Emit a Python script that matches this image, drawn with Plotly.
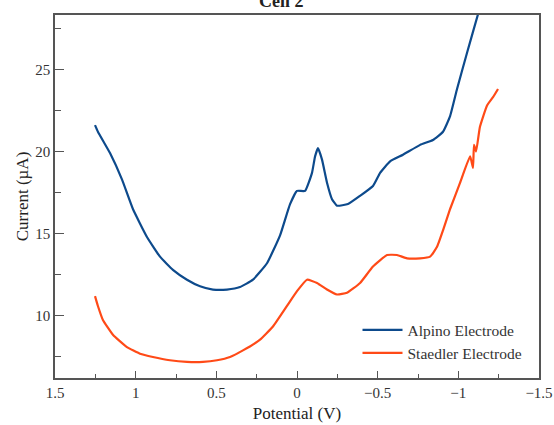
import plotly.graph_objects as go

# Alpino Electrode (blue)
alpino_potential = [1.252, 1.234, 1.159, 1.085, 1.017, 0.930, 0.849, 0.769, 0.682, 0.601,
                    0.521, 0.434, 0.353, 0.273, 0.186, 0.105, 0.043, 0.000, -0.050, -0.093,
                    -0.112, -0.130, -0.155, -0.186, -0.217, -0.248, -0.316, -0.391, -0.471,
                    -0.515, -0.577, -0.657, -0.763, -0.843, -0.905, -0.949, -0.992, -1.054,
                    -1.122, -1.147]
alpino_current = [21.6, 21.2, 19.9, 18.3, 16.5, 14.8, 13.6, 12.8, 12.2, 11.8,
                  11.6, 11.6, 11.75, 12.2, 13.2, 14.9, 16.8, 17.6, 17.6, 18.7,
                  19.7, 20.2, 19.5, 18.1, 17.1, 16.7, 16.8, 17.3, 17.9,
                  18.7, 19.4, 19.8, 20.4, 20.7, 21.2, 22.15, 23.8, 26.0,
                  28.35, 29.2]

# Staedler Electrode (orange)
staedler_potential = [1.252, 1.234, 1.203, 1.141, 1.054, 0.973, 0.893, 0.788, 0.682, 0.583,
                      0.496, 0.415, 0.335, 0.229, 0.149, 0.062, 0.000, -0.062, -0.124,
                      -0.186, -0.248, -0.310, -0.391, -0.471, -0.558, -0.620, -0.682,
                      -0.763, -0.825, -0.868, -0.905, -0.949, -1.011, -1.073, -1.091,
                      -1.097, -1.110, -1.134, -1.178, -1.215, -1.246]
staedler_current = [11.2, 10.6, 9.75, 8.85, 8.1, 7.7, 7.5, 7.3, 7.2, 7.2,
                    7.3, 7.5, 7.9, 8.55, 9.35, 10.6, 11.5, 12.2, 12.0,
                    11.6, 11.3, 11.4, 12.0, 13.0, 13.7, 13.7, 13.5,
                    13.5, 13.6, 14.2, 15.2, 16.5, 18.1, 19.7, 19.0,
                    20.4, 20.0, 21.5, 22.8, 23.3, 23.8]

x_tick_vals = [1.5, 1, 0.5, 0, -0.5, -1, -1.5]
x_tick_text = ["1.5", "1", "0.5", "0", "\u22120.5", "\u22121", "\u22121.5"]
y_tick_vals = [10, 15, 20, 25]

serif = "Liberation Serif, Times New Roman, serif"

fig = go.Figure()
fig.add_trace(go.Scatter(x=alpino_potential, y=alpino_current, mode="lines",
                         name="Alpino Electrode",
                         line=dict(color="#0d4a8c", width=2.2, shape="spline", smoothing=0.4)))
fig.add_trace(go.Scatter(x=staedler_potential, y=staedler_current, mode="lines",
                         name="Staedler Electrode",
                         line=dict(color="#ff4a17", width=2.2, shape="spline", smoothing=0.4)))

axis_common = dict(showline=True, linecolor="#555555", linewidth=1.5, mirror=True,
                   ticks="inside", tickcolor="#555555", showgrid=False, zeroline=False,
                   automargin=False,
                   tickfont=dict(family=serif, size=15, color="#333333"))

fig.update_xaxes(range=[1.5, -1.5], tickvals=x_tick_vals, ticktext=x_tick_text,
                 ticklen=7, tickwidth=1.3,
                 minor=dict(dtick=0.25, tick0=0, ticks="inside", ticklen=4,
                            tickcolor="#555555", tickwidth=1.3),
                 title=dict(text="Potential (V)", font=dict(family=serif, size=17, color="#222222"),
                            standoff=7),
                 **axis_common)
fig.update_yaxes(range=[6.22, 28.3], tickvals=y_tick_vals,
                 ticklen=9, tickwidth=1.3,
                 minor=dict(dtick=2.5, tick0=0, ticks="inside", ticklen=6,
                            tickcolor="#555555", tickwidth=1.3),
                 title=dict(text="Current (\u00b5A)", font=dict(family=serif, size=17, color="#222222"),
                            standoff=2),
                 **axis_common)

fig.add_annotation(text="<b>Cell 2</b>", xref="paper", yref="paper", x=0.467, y=1,
                   xanchor="center", yanchor="bottom", yshift=2, showarrow=False,
                   font=dict(family=serif, size=18, color="#222222"))

fig.update_layout(
    width=554, height=425,
    margin=dict(l=55, r=15, t=15, b=47),
    paper_bgcolor="white", plot_bgcolor="white",
    legend=dict(x=0.625, y=0.1, xanchor="left", yanchor="middle",
                bgcolor="rgba(0,0,0,0)",
                font=dict(family=serif, size=15.5, color="#333333"),
                itemwidth=40, tracegroupgap=0),
)

fig.write_html("out.html", config={"displayModeBar": False},
               post_script="document.body.style.margin='0px';")
